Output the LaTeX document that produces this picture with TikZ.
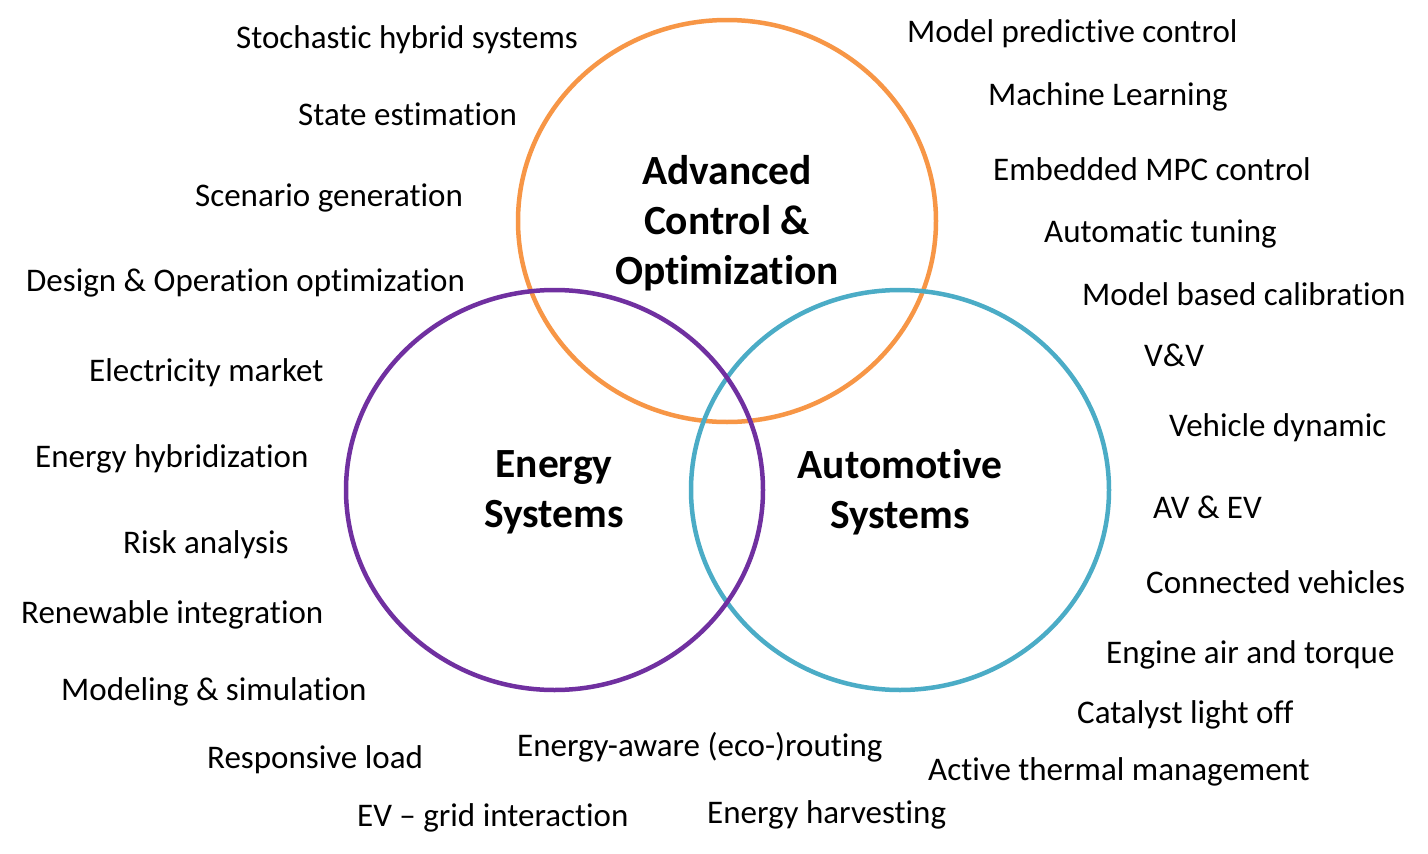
\documentclass[tikz,border=0pt]{standalone}
\usepackage{fontspec}
\setmainfont{Carlito}[Ligatures=NoCommon]
\begin{document}
\begin{tikzpicture}[x=1pt,y=-1pt,
  ring/.style={line width=4.5pt},
  topic/.style={anchor=base west,inner sep=0pt,font=\fontsize{33}{40}\selectfont},
  field/.style={align=center,inner sep=0pt,font=\bfseries\fontsize{41.5}{50}\selectfont}
]
\definecolor{acoOrange}{HTML}{F79646}
\definecolor{autoBlue}{HTML}{4BACC6}
\definecolor{enerPurple}{HTML}{7030A0}
\useasboundingbox[fill=white] (0,0) rectangle (1428,854);

% the three overlapping fields
\draw[ring,acoOrange] (727,221) ellipse [x radius=209,y radius=201];
\draw[ring,autoBlue] (900,490) ellipse [x radius=209,y radius=200];
\draw[ring,enerPurple] (554.5,490) ellipse [x radius=208.5,y radius=200];

\node[field] (aco) at (727,223) {Advanced\\Control \&\\Optimization};
\node[field] (ene) at (554,492) {Energy\\Systems};
\node[field] (aut) at (900,492) {Automotive\\Systems};

% topics on the left (positions are baselines)
\node[topic] (t1) at (236,48) {Stochastic hybrid systems};
\node[topic] (t2) at (298,125) {State estimation};
\node[topic] (t3) at (195,206) {Scenario generation};
\node[topic] (t4) at (26,291) {Design \& Operation optimization};
\node[topic] (t5) at (89,381) {Electricity market};
\node[topic] (t6) at (35,467) {Energy hybridization};
\node[topic] (t7) at (123,553) {Risk analysis};
\node[topic] (t8) at (21,623) {Renewable integration};
\node[topic] (t9) at (61,700) {Modeling \& simulation};
\node[topic] (t10) at (207,768) {Responsive load};
\node[topic] (t11) at (357,826) {EV – grid interaction};
% topics at the bottom
\node[topic] (t12) at (517,756) {Energy-aware (eco-)routing};
\node[topic] (t13) at (707,823) {Energy harvesting};
% topics on the right
\node[topic] (t14) at (907,42) {Model predictive control};
\node[topic] (t15) at (988,105) {Machine Learning};
\node[topic] (t16) at (993,180) {Embedded MPC control};
\node[topic] (t17) at (1044,242) {Automatic tuning};
\node[topic] (t18) at (1082,305) {Model based calibration};
\node[topic] (t19) at (1144,366) {V\&V};
\node[topic] (t20) at (1169,436) {Vehicle dynamic};
\node[topic] (t21) at (1153,518) {AV \& EV};
\node[topic] (t22) at (1146,593) {Connected vehicles};
\node[topic] (t23) at (1106,663) {Engine air and torque};
\node[topic] (t24) at (1077,723) {Catalyst light off};
\node[topic] (t25) at (928,780) {Active thermal management};
\end{tikzpicture}
\end{document}
